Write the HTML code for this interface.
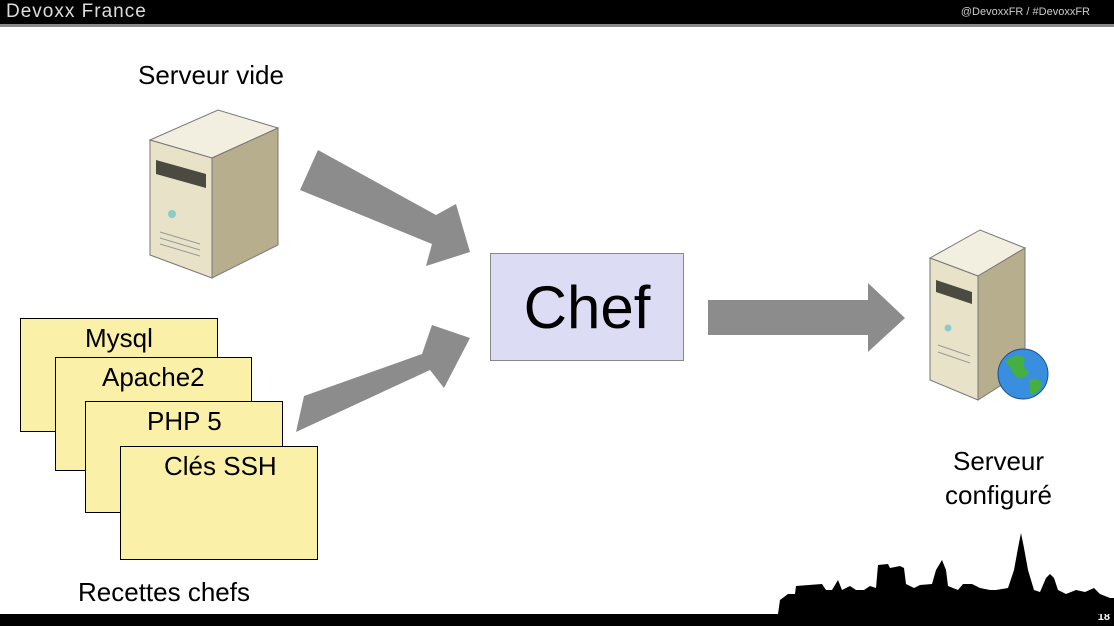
<!DOCTYPE html>
<html><head><meta charset="utf-8"><style>
body{margin:0;width:1114px;height:626px;background:#fff;position:relative;overflow:hidden;font-family:"Liberation Sans",sans-serif}
.t{position:absolute;color:#000;font-size:26px;white-space:nowrap}
.card{position:absolute;width:196px;height:113px;background:#fbf0a8;border:1.5px solid #000;box-sizing:border-box}
.card span{position:absolute;left:0;right:0;text-align:center;top:4px;font-size:26px}
</style></head><body>
<div style="position:absolute;left:0;top:0;width:1114px;height:24px;background:#000;border-bottom:3px solid #888"></div>
<div style="position:absolute;left:6px;top:1px;color:#ddd;font-size:19px;letter-spacing:1px">Devoxx France</div>
<div style="position:absolute;right:24px;top:6px;color:#ccc;font-size:11px">@DevoxxFR / #DevoxxFR</div>
<div style="position:absolute;left:0;top:614px;width:1114px;height:12px;background:#000"></div>
<div style="position:absolute;right:4px;top:611px;color:#fff;font-size:11px;font-weight:bold">18</div>

<div class="t" style="left:138px;top:60px">Serveur vide</div>
<div class="t" style="left:953px;top:446px">Serveur</div>
<div class="t" style="left:945px;top:480px">configuré</div>
<div class="t" style="left:78px;top:577px">Recettes chefs</div>

<div class="card" style="left:20px;top:318px;width:198px;height:114px"><span style="text-align:left;left:64px">Mysql</span></div>
<div class="card" style="left:55px;top:357px;width:197px;height:114px"><span style="text-align:left;left:46px">Apache2</span></div>
<div class="card" style="left:85px;top:401px;width:198px;height:112px"><span style="text-align:left;left:61px">PHP 5</span></div>
<div class="card" style="left:120px;top:446px;width:198px;height:114px"><span style="text-align:left;left:43px">Clés SSH</span></div>

<div style="position:absolute;left:490px;top:253px;width:194px;height:108px;background:#dcdcf4;border:1px solid #888;box-sizing:border-box;text-align:center;font-size:60px;line-height:108px">Chef</div>

<svg width="1114" height="626" style="position:absolute;left:0;top:0">
<g fill="#8c8c8c">
<polygon points="300,190 318,150 436,215 456,204 470,252 426,266 432,244"/>
<polygon points="296,432 304,396 422,354 432,325 470,338 444,388 430,370"/>
<polygon points="708,300 868,300 868,283 905,318 868,352 868,335 708,335"/>
</g>
<g>
<polygon points="150,140 218,110 278,128 212,158" fill="#f3efe0" stroke="#777"/>
<polygon points="212,158 278,128 278,245 212,278" fill="#b7ae8e" stroke="#777"/>
<polygon points="150,140 212,158 212,278 150,255" fill="#e8e2c8" stroke="#777"/>
<polygon points="156,160 206,174 206,188 156,174" fill="#4a4a40"/>
<circle cx="172" cy="214" r="4" fill="#8cc"/>
<line x1="160" y1="232" x2="200" y2="244" stroke="#999"/>
<line x1="160" y1="238" x2="200" y2="250" stroke="#999"/>
<line x1="160" y1="244" x2="200" y2="256" stroke="#999"/>
</g>
<g>
<polygon points="930,258 980,230 1025,248 978,276" fill="#f3efe0" stroke="#777"/>
<polygon points="978,276 1025,248 1025,370 978,400" fill="#b7ae8e" stroke="#777"/>
<polygon points="930,258 978,276 978,400 930,380" fill="#e8e2c8" stroke="#777"/>
<polygon points="936,280 972,292 972,304 936,292" fill="#4a4a40"/>
<circle cx="948" cy="328" r="3.5" fill="#8cc"/>
<line x1="938" y1="345" x2="970" y2="356" stroke="#999"/>
<line x1="938" y1="352" x2="970" y2="363" stroke="#999"/>
<circle cx="1023" cy="374" r="25" fill="#3a8ee0" stroke="#1c4f8a"/>
<path d="M1005,362 q10,-10 20,-4 q-4,10 4,14 q-6,10 -14,4 q-4,-8 -10,-14z M1030,380 q8,-4 12,4 q-4,12 -12,10z" fill="#45b040"/>
</g>
<g fill="#000">
<path d="M778,614 L780,600 788,594 795,594 796,586 822,584 826,590 832,590 838,580 842,590 850,586 856,590 864,590 870,586 876,588 878,565 888,564 890,568 900,566 904,568 906,584 914,588 920,585 932,584 936,570 942,560 946,570 948,586 958,590 963,584 972,584 980,588 990,590 996,590 1008,588 1014,570 1018,548 1021,533 1024,548 1028,570 1034,590 1040,592 1046,578 1050,574 1054,578 1058,590 1066,594 1076,590 1085,592 1094,588 1100,594 1110,598 1114,598 1114,614 Z"/>
</g>
</svg>
</body></html>
